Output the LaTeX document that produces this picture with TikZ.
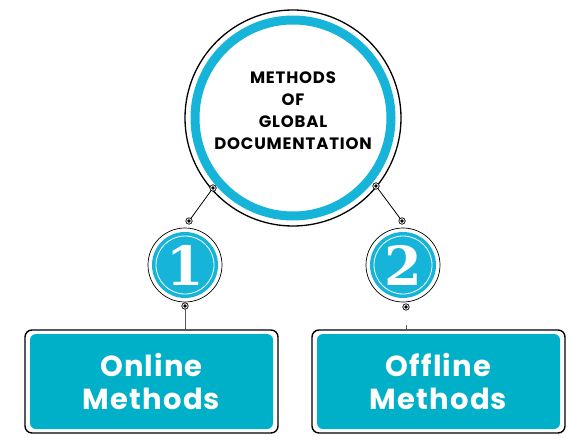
\documentclass[tikz,border=0pt]{standalone}
\usepackage{fontspec}
\setmainfont{Poppins}
\newfontfamily\titlefont{Poppins}[LetterSpace=5]
\newfontfamily\boxfont{Poppins}[LetterSpace=4]
\newfontfamily\numfont{DejaVu Serif}
\usetikzlibrary{positioning}
\definecolor{ringblue}{RGB}{22,180,216}
\definecolor{boxblue}{RGB}{0,176,200}
\tikzset{
  dot/.style = {circle, draw=black, fill=black, line width=0.8pt, double=white, double distance=0.9pt,
    inner sep=0, minimum size=4.5pt},
  numdisc/.style = {circle, draw, line width=0.7pt, inner sep=0, minimum size=74pt,
    path picture={
      \fill[ringblue] (path picture bounding box.center) circle (33pt);
      \draw[white, line width=0.8pt] (path picture bounding box.center) circle (29pt);}},
  numtext/.style = {text=white, font=\numfont\bfseries\fontsize{54}{54}\selectfont},
  boxframe/.style = {draw, line width=1.4pt, rounded corners=7pt, minimum width=253pt, minimum height=103pt},
  boxfill/.style = {fill=boxblue, rounded corners=6pt, minimum width=243pt, minimum height=95pt,
    text=white, align=center, font=\boxfont\bfseries\fontsize{29}{33}\selectfont}
}
\begin{document}
\begin{tikzpicture}[x=1pt, y=-1pt]
  \useasboundingbox (0,0) rectangle (586,441);
  % central circle
  \node[circle, draw, line width=1.3pt, minimum size=216pt, inner sep=0] (main) at (293,118) {};
  \draw[ringblue, line width=9pt] (main.center) circle (98pt);
  \node[align=center, font=\titlefont\bfseries\fontsize{16.5}{22}\selectfont] (title) at (293,111)
    {METHODS\\OF\\GLOBAL\\DOCUMENTATION};
  % numbered discs
  \node[numdisc] (n1) at (185,265) {};
  \node[numdisc] (n2) at (403,265) {};
  \node[numtext] at (n1) {1};
  \node[numtext] at (n2) {2};
  % boxes
  \node[boxframe] (b1) at (151.5,381.5) {};
  \node[boxfill] (t1) at (b1) {Online\\Methods};
  \node[boxframe] (b2) at (438.5,381.5) {};
  \node[boxfill] (t2) at (b2) {Offline\\Methods};
  % connector dots
  \node[dot] (d1) at (213,188) {};
  \node[dot] (d2) at (189,221) {};
  \node[dot] (d3) at (376,186) {};
  \node[dot] (d4) at (402,221) {};
  \node[dot] (d5) at (185,306) {};
  \node[dot] (d6) at (406,307) {};
  \coordinate (s2) at (406,325);
  \draw[line width=0.8pt] (d1) -- (d2);
  \draw[line width=0.8pt] (d3) -- (d4);
  \draw[gray!70!black, line width=0.8pt] (d5) -- (d5 |- b1.north);
  \draw[gray!70!black, line width=0.8pt] (s2) -- (s2 |- b2.north);
\end{tikzpicture}
\end{document}
